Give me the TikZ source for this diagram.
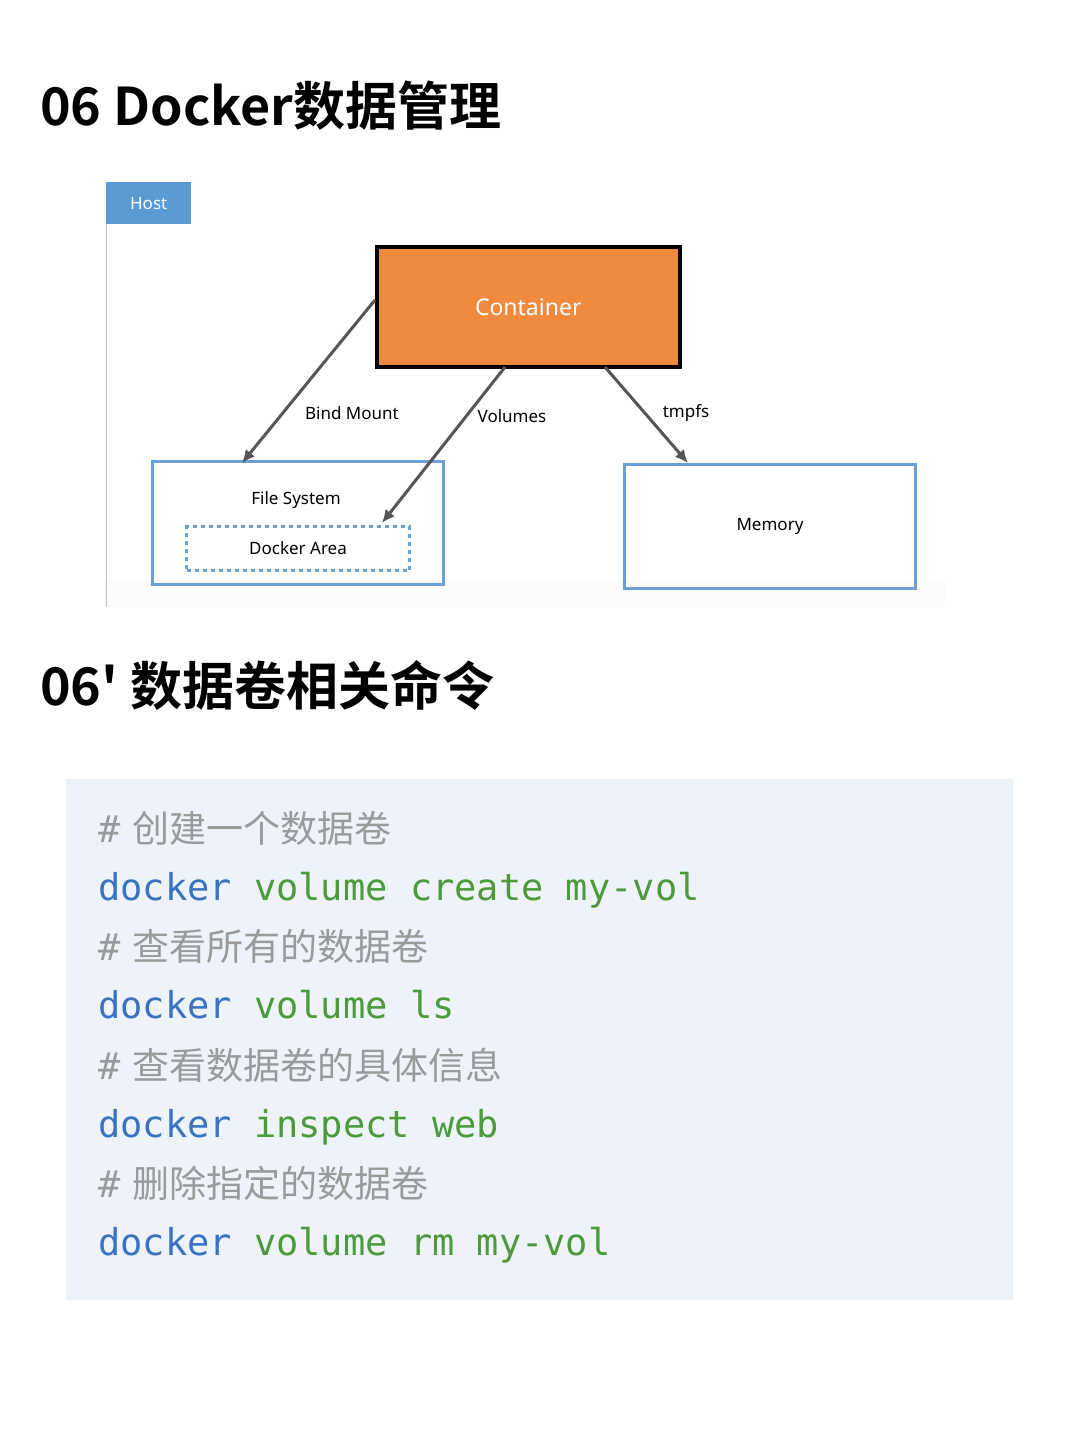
\documentclass[tikz,border=0pt]{standalone}
\usepackage{fontspec}
\setmainfont{Noto Sans}
\newfontfamily\cjk{Noto Sans CJK SC}
\newfontfamily\cjkb{Noto Sans CJK SC Bold}
\newfontfamily\monof{DejaVu Sans Mono}
\definecolor{hostblue}{HTML}{5B9BD5}
\definecolor{boxblue}{HTML}{6C9FD3}
\definecolor{orng}{HTML}{EF8A3E}
\definecolor{codebg}{HTML}{EEF3FA}
\definecolor{kwblue}{HTML}{3B73C4}
\definecolor{kwgreen}{HTML}{4C9A3C}
\definecolor{cmt}{HTML}{9A9A9A}
\definecolor{arr}{HTML}{555555}
\tikzset{
 title/.style={anchor=base west,font=\cjkb\fontsize{52}{56}\selectfont,inner sep=0},
 lbl/.style={font=\fontsize{17}{20}\selectfont},
 con/.style={draw=arr,line width=3pt,-{Latex[length=13pt,width=12pt]}},
 bbox/.style={draw=boxblue,line width=3pt},
 cmtline/.style={anchor=base west,inner sep=0,text=cmt,font=\cjk\fontsize{37}{40}\selectfont},
 cmdline/.style={anchor=base west,inner sep=0,font=\monof\fontsize{37}{40}\selectfont},
}
\usetikzlibrary{arrows.meta}
\begin{document}
\begin{tikzpicture}[x=1pt,y=-1pt]
\useasboundingbox (0,0) rectangle (1080,1443);
\fill[white] (0,0) rectangle (1080,1443);
\node[title] (t1) at (40,125) {06 Docker数据管理};
% diagram panel
\fill[white!97!gray] (105,182) rectangle (945,607);
\fill[white] (105,182) rectangle (945,580);
\draw[gray!50,line width=1pt] (106,182) -- (106,607);
\node[fill=hostblue,text=white,minimum width=85pt,minimum height=42pt,inner sep=0,anchor=north west,font=\fontsize{17}{20}\selectfont] (host) at (106,182) {Host};
\node[draw=black,line width=3.5pt,fill=orng,text=white,minimum width=303pt,minimum height=120pt,anchor=north west,font=\bfseries\fontsize{23}{26}\selectfont] (cont) at (375,245) {Container};
\node[bbox,minimum width=291pt,minimum height=123pt,anchor=north west] (fs) at (151,460) {};
\node[lbl] (fst) at (296,500) {File System};
\node[draw=boxblue,line width=3pt,dash pattern=on 4pt off 4pt,minimum width=223pt,minimum height=44pt,anchor=north west,lbl] (da) at (185,525) {Docker Area};
\node[bbox,minimum width=291pt,minimum height=124pt,anchor=north west,lbl] (mem) at (623,463) {Memory};
\coordinate (c1) at (375,300);
\coordinate (c2) at (505,367);
\coordinate (c3) at (605,367);
\coordinate (e1) at (242,463);
\coordinate (e2) at (382,523);
\coordinate (e3) at (688,463);
\draw[con] (c1) -- (e1);
\draw[con] (c2) -- (e2);
\draw[con] (c3) -- (e3);
\node[lbl] (l1) at (352,413) {Bind Mount};
\node[lbl] (l2) at (512,416) {Volumes};
\node[lbl] (l3) at (686,413) {tmpfs};
% second section
\node[title] (t2) at (40,705) {06' 数据卷相关命令};
\fill[codebg] (66,779) rectangle (1013,1300);
\node[cmtline] (a1) at (98,842) {\monof\#\hspace{12pt}\cjk 创建一个数据卷};
\node[cmdline] (b1) at (98,900) {\textcolor{kwblue}{docker} \textcolor{kwgreen}{volume create my-vol}};
\node[cmtline] (a2) at (98,960) {\monof\#\hspace{12pt}\cjk 查看所有的数据卷};
\node[cmdline] (b2) at (98,1018) {\textcolor{kwblue}{docker} \textcolor{kwgreen}{volume ls}};
\node[cmtline] (a3) at (98,1079) {\monof\#\hspace{12pt}\cjk 查看数据卷的具体信息};
\node[cmdline] (b3) at (98,1137) {\textcolor{kwblue}{docker} \textcolor{kwgreen}{inspect web}};
\node[cmtline] (a4) at (98,1197) {\monof\#\hspace{12pt}\cjk 删除指定的数据卷};
\node[cmdline] (b4) at (98,1255) {\textcolor{kwblue}{docker} \textcolor{kwgreen}{volume rm my-vol}};
\end{tikzpicture}
\end{document}
